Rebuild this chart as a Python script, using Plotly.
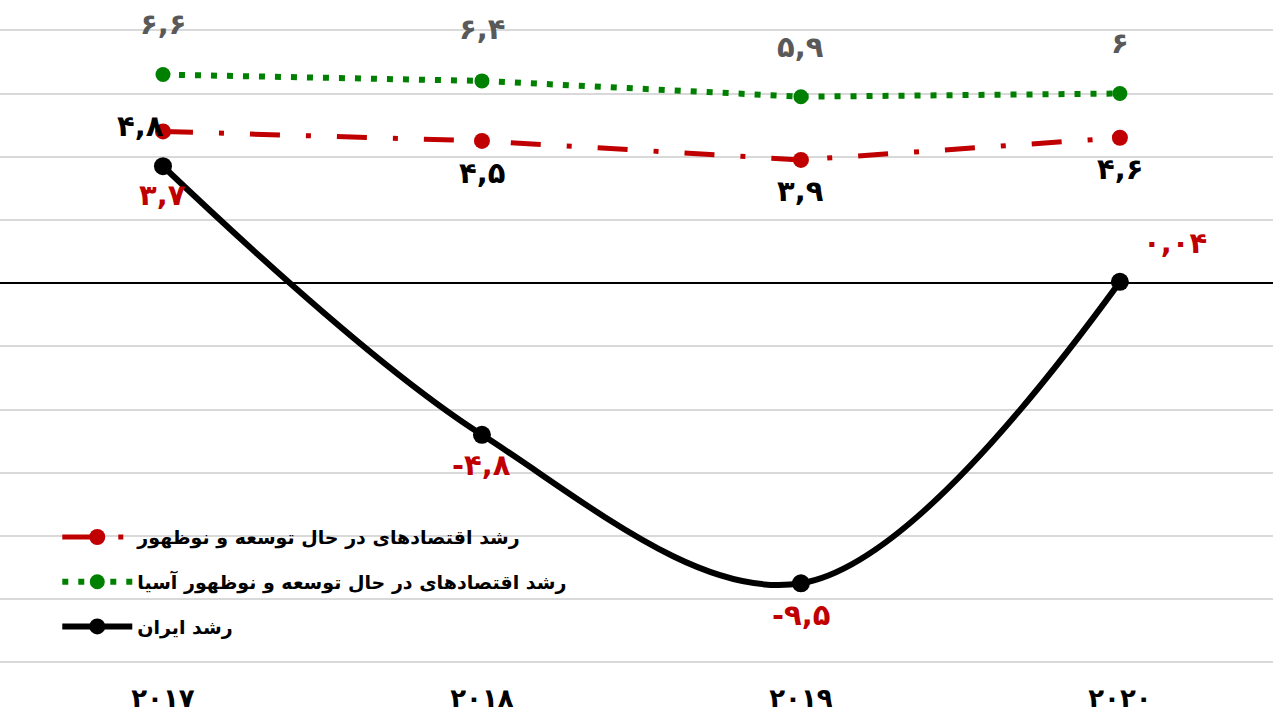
import plotly.graph_objects as go

years = ["۲۰۱۷", "۲۰۱۸", "۲۰۱۹", "۲۰۲۰"]

name_dev = "رشد اقتصادهای در حال توسعه و نوظهور"
name_asia = "رشد اقتصادهای در حال توسعه و نوظهور آسیا"
name_iran = "رشد ایران"

dev_values = [4.8, 4.5, 3.9, 4.6]
asia_values = [6.6, 6.4, 5.9, 6.0]
iran_values = [3.7, -4.8, -9.5, 0.04]

dev_labels = ["۴,۸", "۴,۵", "۳,۹", "۴,۶"]
asia_labels = ["۶,۶", "۶,۴", "۵,۹", "۶"]
iran_labels = ["۳,۷", "-۴,۸", "-۹,۵", "۰,۰۴"]

RED = "#c00000"
GREEN = "#008000"
FONT = "DejaVu Sans"

fig = go.Figure()
fig.add_trace(go.Scatter(
    x=years, y=dev_values, name=name_dev, legendgroup="a",
    mode="lines+markers",
    line=dict(color=RED, width=5, dash="30px,26px,5px,26px"),
    marker=dict(color=RED, size=16),
))
fig.add_trace(go.Scatter(
    x=years, y=asia_values, name=name_asia, legendgroup="b",
    mode="lines+markers",
    line=dict(color=GREEN, width=6, dash="6px,10px"),
    marker=dict(color=GREEN, size=15),
))
fig.add_trace(go.Scatter(
    x=years, y=iran_values, name=name_iran, legendgroup="c",
    mode="lines+markers",
    line=dict(color="black", width=6, shape="spline", smoothing=1.0),
    marker=dict(color="black", size=18),
))

annotations = []
dev_shift = [(-22, 5), (0, -32), (0, -31), (0, -31)]
asia_shift = [(0, 51), (0, 52), (0, 50), (0, 51)]
iran_shift = [(0, -29), (0, -30), (0, -32), (55, 39)]
for vals, labs, shifts, col in [
    (dev_values, dev_labels, dev_shift, "black"),
    (asia_values, asia_labels, asia_shift, "#595959"),
    (iran_values, iran_labels, iran_shift, RED),
]:
    for i, (v, t) in enumerate(zip(vals, labs)):
        annotations.append(dict(
            x=years[i], y=v, text="<b>%s</b>" % t, showarrow=False,
            xshift=shifts[i][0], yshift=shifts[i][1],
            font=dict(family=FONT, size=29, color=col),
        ))

fig.update_layout(
    width=1273, height=716,
    margin=dict(l=0, r=0, t=0, b=36, autoexpand=False),
    paper_bgcolor="white", plot_bgcolor="white",
    font=dict(family=FONT, color="black"),
    annotations=annotations,
    showlegend=True,
    legend=dict(
        x=0.045, y=0.238, xanchor="left", yanchor="top",
        bgcolor="rgba(0,0,0,0)",
        font=dict(family=FONT, size=19, color="black", weight="bold"),
        tracegroupgap=17, itemwidth=70,
    ),
    xaxis=dict(
        type="category", range=[-0.511, 3.48],
        showgrid=False, zeroline=False, showline=False, ticks="",
        tickfont=dict(family=FONT, size=26, color="black", weight="bold"),
    ),
    yaxis=dict(
        range=[-12.56, 8.96], dtick=2, tick0=0,
        showticklabels=False, showgrid=True, gridcolor="#d9d9d9", gridwidth=2,
        zeroline=True, zerolinecolor="black", zerolinewidth=1.5,
        showline=False, ticks="",
    ),
)

fig.write_html(
    "out.html",
    config={"displayModeBar": False},
    post_script="document.body.style.margin='0px';document.body.style.overflow='hidden';",
)
